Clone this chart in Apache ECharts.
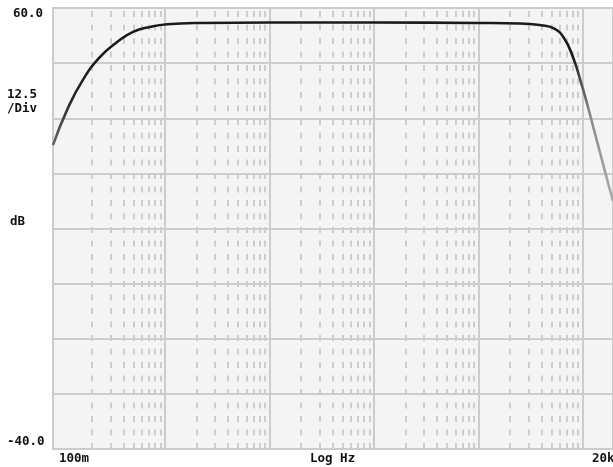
<!DOCTYPE html>
<html>
<head>
<meta charset="utf-8">
<script src="https://cdn.jsdelivr.net/npm/echarts@6/dist/echarts.min.js"></script>
<style>
html,body{margin:0;padding:0;background:#ffffff;}
#chart{width:613px;height:467px;}
</style>
</head>
<body>
<div id="chart"></div>
<script>
// ---- data ----
const freqHz = [0.0843, 0.115, 0.163, 0.238, 0.347, 0.493, 0.718, 1.045, 2.17, 10, 100, 1000, 2500, 3956, 5270, 6580, 8020, 9570, 11170, 12760, 14880, 17370, 19400];
const magDb  = [28.9, 36.9, 43.7, 48.9, 52.3, 54.6, 55.7, 56.3, 56.6, 56.7, 56.7, 56.6, 56.5, 56.1, 55.4, 53.2, 48.9, 43.2, 37.6, 32.4, 26.4, 20.4, 16.2];

// axis scale
const yTop = 60.0, yBottom = -40.0, yPerDiv = 12.5;
const xMinHz = 0.0843, xMaxHz = 19400;
const decadeStarts = [0.1, 1, 10, 100, 1000];
const decadeLines = [1, 10, 100, 1000, 10000];
const minorMultipliers = [2, 3, 4, 5, 6, 7, 8, 9];

// texts
const yTopLabel = '60.0', yBottomLabel = '-40.0';
const scaleLabel = ['12.5', '/Div'];
const unitLabel = 'dB';
const xStartLabel = '100m', xEndLabel = '20k', xAxisLabel = 'Log Hz';

// ---- build ----
const hLines = [];
for (let v = yTop - yPerDiv; v > yBottom + 0.01; v -= yPerDiv) hLines.push({yAxis: v});
const vMajor = decadeLines.map(f => ({xAxis: f}));
const vMinor = [];
decadeStarts.forEach(d => minorMultipliers.forEach(m => { vMinor.push({xAxis: d * m}); }));

const font = '"DejaVu Sans Mono", monospace';
const txt = (x, y, s, align) => ({
  type: 'text', left: x, top: y,
  style: {text: s, fill: '#111', font: 'bold 12.5px ' + font, textAlign: align || 'left'}
});

const chart = echarts.init(document.getElementById('chart'), null, {renderer: 'canvas'});
chart.setOption({
  animation: false,
  backgroundColor: '#ffffff',
  grid: {left: 53, top: 8, width: 562, height: 441, show: true,
         backgroundColor: '#f4f4f4', borderColor: '#cccccc', borderWidth: 2},
  xAxis: {type: 'log', logBase: 10, min: xMinHz, max: xMaxHz, show: false},
  yAxis: {type: 'value', min: yBottom, max: yTop, show: false},
  series: [
    {type: 'line', data: [], silent: true, z: 1,
     markLine: {silent: true, z: 1, symbol: ['none', 'none'], label: {show: false},
       lineStyle: {color: '#cdcdcd', width: 2, type: [6, 7.5]}, emphasis: {disabled: true},
       data: vMinor}},
    {type: 'line', data: [], silent: true, z: 1,
     markLine: {silent: true, z: 1, symbol: ['none', 'none'], label: {show: false},
       lineStyle: {color: '#cccccc', width: 2, type: 'solid'}, emphasis: {disabled: true},
       data: vMajor.concat(hLines)}},
    {type: 'line', z: 10, silent: true, showSymbol: false, smooth: 0.5,
     data: freqHz.map((f, i) => [f, magDb[i]]),
     lineStyle: {width: 2.6, color: new echarts.graphic.LinearGradient(0, 0, 1, 0, [
       {offset: 0, color: '#707070'}, {offset: 0.035, color: '#2a2a2a'},
       {offset: 0.08, color: '#1a1a1a'}, {offset: 0.925, color: '#1a1a1a'},
       {offset: 0.955, color: '#8a8a8a'}, {offset: 1, color: '#b0b0b0'}])}}
  ],
  graphic: [
    txt(13, 7, yTopLabel),
    txt(7, 88, scaleLabel[0]),
    txt(7, 102, scaleLabel[1]),
    txt(10, 215, unitLabel),
    txt(7, 435, yBottomLabel),
    txt(59, 452, xStartLabel),
    txt(310, 452, xAxisLabel),
    txt(592, 452, xEndLabel)
  ]
});
</script>
</body>
</html>
